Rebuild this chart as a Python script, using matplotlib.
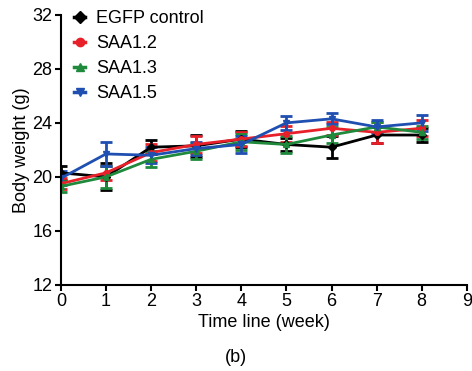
import matplotlib.pyplot as plt
from matplotlib.lines import Line2D

plt.rcParams['font.family'] = ['Liberation Sans', 'DejaVu Sans']

weeks = [0, 1, 2, 3, 4, 5, 6, 7, 8]

egfp = [20.3, 20.0, 22.2, 22.3, 22.8, 22.4, 22.2, 23.1, 23.1]
egfp_err = [0.5, 1.0, 0.5, 0.8, 0.6, 0.5, 0.8, 0.6, 0.5]

saa12 = [19.5, 20.3, 21.8, 22.4, 22.8, 23.2, 23.6, 23.3, 23.6]
saa12_err = [0.4, 0.5, 0.6, 0.6, 0.5, 0.6, 0.5, 0.8, 0.6]

saa13 = [19.3, 20.0, 21.3, 21.9, 22.6, 22.4, 23.1, 23.7, 23.3]
saa13_err = [0.4, 0.8, 0.6, 0.6, 0.6, 0.6, 0.6, 0.4, 0.5]

saa15 = [19.9, 21.7, 21.6, 22.1, 22.4, 24.0, 24.3, 23.7, 24.0]
saa15_err = [0.5, 0.9, 0.6, 0.5, 0.6, 0.5, 0.4, 0.5, 0.6]

fs = 13

fig = plt.figure(figsize=(4.72, 3.71), dpi=100)
ax = fig.add_axes([0.129, 0.232, 0.860, 0.728])

series = [
    ('EGFP control', egfp, egfp_err, 'black', 'D'),
    ('SAA1.2', saa12, saa12_err, '#e8202a', 'o'),
    ('SAA1.3', saa13, saa13_err, '#1f8a3c', '^'),
    ('SAA1.5', saa15, saa15_err, '#1f4fb0', 'v'),
]
handles = []
for name, y, e, c, m in series:
    ax.errorbar(weeks, y, yerr=e, color=c, marker=m, markersize=4,
                linewidth=2, elinewidth=2, capsize=4, capthick=2)
    handles.append(Line2D([], [], color=c, marker=m, markersize=6,
                          linewidth=2.5, label=name))

ax.set_xlim(0, 9)
ax.set_ylim(12, 32)
ax.set_xticks(range(0, 10))
ax.set_yticks([12, 16, 20, 24, 28, 32])
ax.spines['top'].set_visible(False)
ax.spines['right'].set_visible(False)
ax.spines['left'].set_linewidth(1.5)
ax.spines['bottom'].set_linewidth(1.5)
ax.tick_params(labelsize=fs, width=1.5, length=4, pad=2)
ax.set_xlabel('Time line (week)', fontsize=fs, labelpad=3)
ax.set_ylabel('Body weight (g)', fontsize=fs, labelpad=2)

ax.legend(handles=handles, loc='upper left', bbox_to_anchor=(0.015, 1.045),
          frameon=False, fontsize=fs, handlelength=0.6, handletextpad=0.6,
          labelspacing=0.45, borderaxespad=0)

fig.text(0.5, 0.025, '(b)', ha='center', fontsize=fs)

fig.savefig('out.png', dpi=100)
